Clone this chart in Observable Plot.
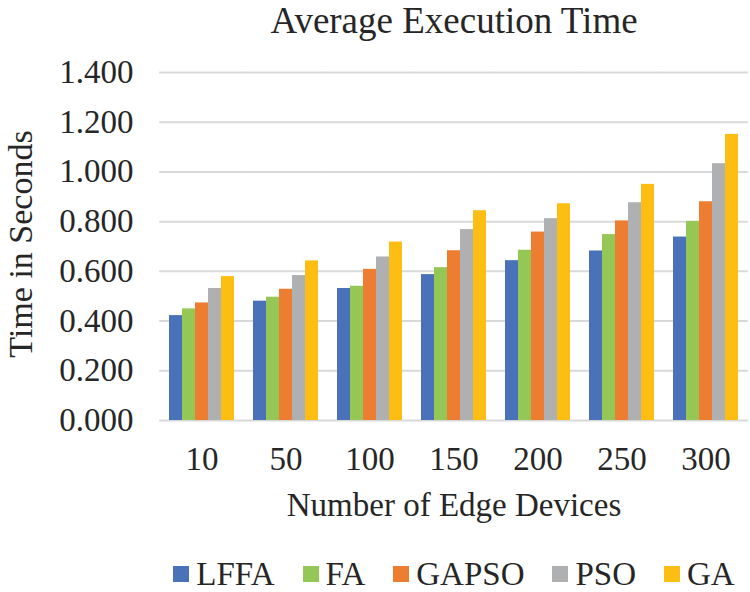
<!DOCTYPE html>
<html>
<head>
<meta charset="utf-8">
<script src="https://cdn.jsdelivr.net/npm/d3@7"></script>
<script src="https://cdn.jsdelivr.net/npm/@observablehq/plot@0.6"></script>
<style>
  html, body { margin: 0; padding: 0; background: #fff; }
  body, div, span { font-family: "Liberation Serif", "Times New Roman", serif; color: #262626; }
  #wrap { position: relative; width: 750px; height: 592px; overflow: hidden; }
  #title { height: 38px; line-height: 41px; font-size: 37px; text-align: center; padding-left: 158px; white-space: nowrap; }
  #chart svg { display: block; }
  #chart svg, #chart svg text { font-family: "Liberation Serif", "Times New Roman", serif !important; }
  #xlabel { height: 50px; line-height: 50px; font-size: 33px; text-align: center; padding-left: 158px; white-space: nowrap; }
  #ylabel { position: absolute; left: 21px; top: 244px; width: 0; height: 0; }
  #ylabel span { position: absolute; display: block; white-space: nowrap; font-size: 34px; line-height: 1; transform: translate(-50%, -50%) rotate(-90deg); }
  #legend { padding-top: 24px; padding-left: 158px; display: flex; justify-content: center; font-size: 33px; line-height: 40px; white-space: nowrap; }
  .item { display: flex; align-items: center; margin: 0 14px; }
  .sw { width: 16px; height: 16px; margin-right: 7px; }
</style>
</head>
<body>
<div id="wrap">
  <div id="title">Average Execution Time</div>
  <div id="chart"></div>
  <div id="xlabel">Number of Edge Devices</div>
  <div id="legend"></div>
  <div id="ylabel"><span>Time in Seconds</span></div>
</div>
<script>
const devices = ["10", "50", "100", "150", "200", "250", "300"];
const algorithms = ["LFFA", "FA", "GAPSO", "PSO", "GA"];
const LFFA  = [0.422, 0.480, 0.531, 0.587, 0.643, 0.682, 0.738];
const FA    = [0.449, 0.496, 0.540, 0.615, 0.685, 0.748, 0.801];
const GAPSO = [0.473, 0.528, 0.608, 0.683, 0.758, 0.803, 0.880];
const PSO   = [0.531, 0.583, 0.658, 0.768, 0.812, 0.876, 1.033];
const GA    = [0.579, 0.642, 0.718, 0.844, 0.872, 0.950, 1.151];
const yTicks = [0, 0.2, 0.4, 0.6, 0.8, 1.0, 1.2, 1.4];
const colors = ["#4A72B8", "#94C755", "#ED7D31", "#AFB0B2", "#FDBE14"];

const series = {LFFA, FA, GAPSO, PSO, GA};
const rows = [];
devices.forEach((d, i) => {
  algorithms.forEach(a => rows.push({device: d, algo: a, value: series[a][i]}));
});

const chart = Plot.plot({
  width: 750,
  height: 442,
  marginTop: 34,
  marginBottom: 60,
  marginLeft: 158,
  marginRight: 0,
  style: {fontFamily: '"Liberation Serif", "Times New Roman", serif', fontSize: "33px", color: "#262626", background: "white", overflow: "visible"},
  fx: {domain: devices, paddingInner: 0.225, paddingOuter: 0.1125, label: null, tickSize: 0, tickPadding: 26},
  x: {domain: algorithms, axis: null, padding: 0},
  y: {domain: [0, 1.4], ticks: yTicks, tickFormat: d3.format(".3f"), tickSize: 0, tickPadding: 36, label: null},
  color: {domain: algorithms, range: colors},
  marks: [
    Plot.ruleY(yTicks, {stroke: "#D9D9D9", strokeWidth: 2, insetLeft: -9.8, insetRight: -9.8}),
    Plot.barY(rows, {fx: "device", x: "algo", y: "value", fill: "algo"})
  ]
});
document.getElementById("chart").appendChild(chart);

const legend = document.getElementById("legend");
algorithms.forEach((a, i) => {
  const item = document.createElement("div");
  item.className = "item";
  const sw = document.createElement("div");
  sw.className = "sw";
  sw.style.background = colors[i];
  const t = document.createElement("span");
  t.textContent = a;
  item.appendChild(sw);
  item.appendChild(t);
  legend.appendChild(item);
});
</script>
</body>
</html>
